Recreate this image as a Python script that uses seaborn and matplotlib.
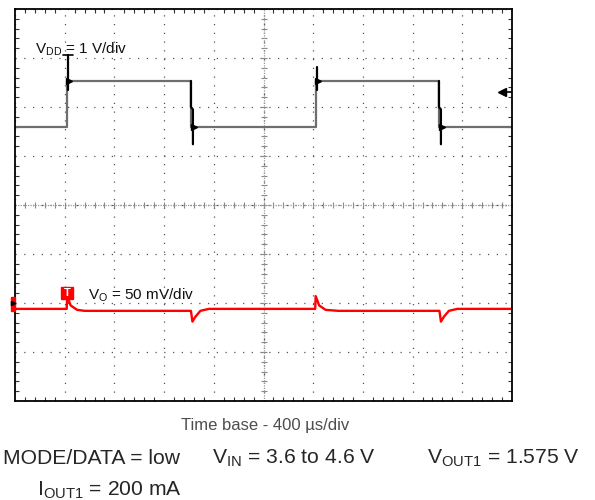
import numpy as np
import matplotlib
matplotlib.use("Agg")
from matplotlib import pyplot as plt
from matplotlib.patches import Rectangle
import seaborn as sns

# scope traces, in divisions (x: 0..10 div, 400 us/div; y: -4..4 div)
vdd_t = [0, 1.05, 1.05, 3.55, 3.55, 6.05, 6.05, 8.54, 8.54, 10]
vdd_v = [1.59, 1.59, 2.53, 2.53, 1.59, 1.59, 2.53, 2.53, 1.59, 1.59]

# black ringing spikes on the VDD edges
rise_spike_t = [1.07, 1.07, 6.07, 6.07]
rise_spike_v = [3.06, 2.35, 2.82, 2.35]
fall_spike_t = [3.54, 3.54, 3.58, 3.58, 8.53, 8.53, 8.57, 8.57]
fall_spike_v = [2.53, 2.0, 1.95, 1.24, 2.53, 2.0, 1.95, 1.24]

vo_t = [0, 1.04, 1.05, 1.12, 1.25, 1.4, 3.54, 3.57, 3.63, 3.73, 3.9,
        6.04, 6.05, 6.12, 6.25, 6.5, 8.54, 8.57, 8.63, 8.73, 8.9, 10]
vo_v = [-2.12, -2.12, -1.86, -2.05, -2.14, -2.16, -2.16, -2.38, -2.28, -2.16, -2.12,
        -2.12, -1.86, -2.05, -2.14, -2.16, -2.16, -2.38, -2.28, -2.16, -2.12, -2.12]

sns.set_theme(style="white")
plt.rcParams['font.family'] = ['Liberation Sans', 'DejaVu Sans']
plt.rcParams['mathtext.fontset'] = 'custom'
plt.rcParams['mathtext.rm'] = 'Liberation Sans'
plt.rcParams['mathtext.it'] = 'Liberation Sans'

fig = plt.figure(figsize=(5.95, 5.0), dpi=100)
ax = fig.add_axes([15 / 595, 1 - 401 / 500, 497 / 595, 392 / 500])
ax.set_xlim(0, 10)
ax.set_ylim(-4, 4)

# graticule
ax.set_xticks(range(11))
ax.set_yticks(range(-4, 5))
ax.set_xticks(np.arange(0, 10.01, 0.2), minor=True)
ax.set_yticks(np.arange(-4, 4.01, 0.2), minor=True)
ax.tick_params(which='major', length=0, labelbottom=False, labelleft=False)
ax.tick_params(which='minor', direction='in', length=3, width=0.8, color='#333',
               bottom=True, top=True, left=True, right=True)
ax.grid(True, which='major', linestyle=(0, (1, 6)), color='#555', linewidth=0.9)
ax.axvline(5, color='#999', linestyle=(0, (1, 1)), linewidth=0.9)
ax.axhline(0, color='#999', linestyle=(0, (1, 1)), linewidth=0.9)
ax.scatter(np.arange(0, 10.01, 0.2), np.zeros(51), marker='|', s=14, color='#888', linewidths=0.8)
ax.scatter(np.full(41, 5.0), np.arange(-4, 4.01, 0.2), marker='_', s=14, color='#888', linewidths=0.8)
for s in ax.spines.values():
    s.set_color('black')
    s.set_linewidth(1.3)

# traces
sns.lineplot(x=vdd_t, y=vdd_v, sort=False, estimator=None, color='#6e6e6e', linewidth=1.6, ax=ax)
for i in range(0, len(rise_spike_t), 2):
    ax.plot(rise_spike_t[i:i + 2], rise_spike_v[i:i + 2], color='black', linewidth=1.6)
for i in range(0, len(fall_spike_t), 4):
    ax.plot(fall_spike_t[i:i + 4], fall_spike_v[i:i + 4], color='black', linewidth=1.6)
ax.plot([0.97, 1.17], [3.06, 3.06], color='black', linewidth=1.2)
ax.plot([1.09, 6.09], [2.53, 2.53], linestyle='none', marker='>', color='black', markersize=4)
ax.plot([3.6, 8.59], [1.59, 1.59], linestyle='none', marker='>', color='black', markersize=4)
sns.lineplot(x=vo_t, y=vo_v, sort=False, estimator=None, color='#ff0000', linewidth=1.7, ax=ax)

# channel / trigger markers
ax.plot([9.8, 10], [2.31, 2.31], color='black', linewidth=1.2)
ax.plot([9.8], [2.31], marker='<', color='black', markersize=6)
ax.add_patch(Rectangle((-0.09, -2.16), 0.09, 0.28, color='#ff0000', clip_on=False, zorder=5))
ax.plot([-0.04], [-2.0], marker='>', color='black', markersize=3, clip_on=False, zorder=6)
ax.add_patch(Rectangle((0.93, -1.92), 0.24, 0.25, color='#ff0000', zorder=5))
ax.text(1.05, -1.8, 'T', color='white', fontsize=8, fontweight='bold', ha='center', va='center', zorder=6)

ax.text(0.40, 3.10, r'V$_{\mathrm{DD}}$ = 1 V/div', fontsize=11, color='#111', va='baseline')
ax.text(1.47, -1.94, r'V$_{\mathrm{O}}$ = 50 mV/div', fontsize=11, color='#111', va='baseline')

# captions
fig.text(265 / 595, 1 - 430 / 500, 'Time base - 400 µs/div', ha='center', va='baseline',
         fontsize=12, color='#4d4d4d')
fig.text(3 / 595, 1 - 464 / 500, 'MODE/DATA = low', fontsize=15.2, va='baseline')
fig.text(212 / 595, 1 - 464 / 500, r'V$_{\mathrm{IN}}$ = 3.6 to 4.6 V', fontsize=15.2, va='baseline')
fig.text(427 / 595, 1 - 464 / 500, r'V$_{\mathrm{OUT1}}$ = 1.575 V', fontsize=15.2, va='baseline')
fig.text(37 / 595, 1 - 496 / 500, r'I$_{\mathrm{OUT1}}$ = 200 mA', fontsize=15.2, va='baseline')

fig.savefig('out.png', dpi=100)
